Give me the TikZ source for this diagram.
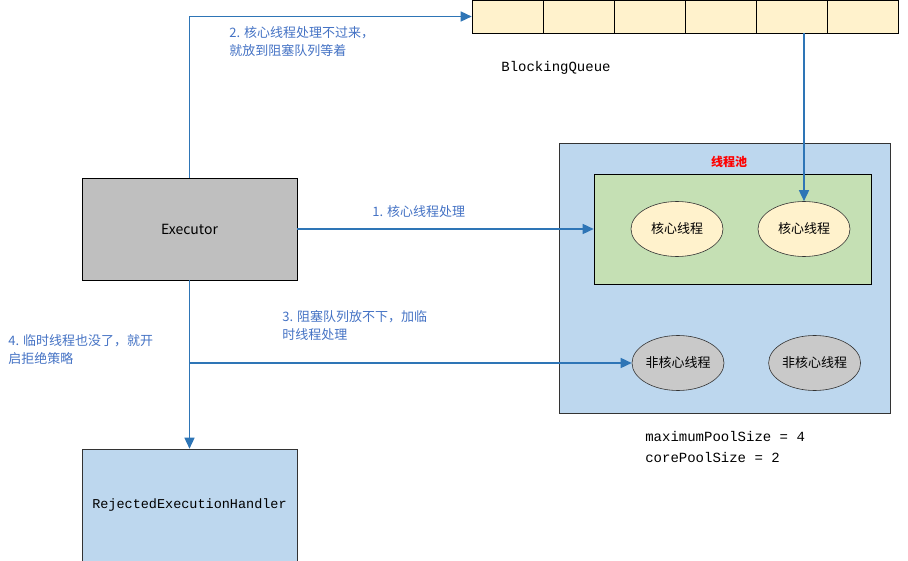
\documentclass[tikz,border=0pt]{standalone}
\usepackage{fontspec}
\setmainfont{Noto Sans CJK SC}
\setmonofont{Liberation Mono}
\usetikzlibrary{arrows.meta, positioning, shapes.geometric}
\definecolor{flowblue}{HTML}{2E75B6}
\definecolor{labelblue}{HTML}{4472C4}
\definecolor{poolblue}{HTML}{BDD7EE}
\definecolor{coregreen}{HTML}{C5E0B4}
\definecolor{queuecell}{HTML}{FFF2CC}
\definecolor{execgray}{HTML}{BFBFBF}
\definecolor{tempgray}{HTML}{C9C9C9}

\begin{document}
\begin{tikzpicture}[
            x = 1pt, y = -1pt, % one unit per pixel, y going down
            > = {Triangle[length = 11pt, width = 10pt]}, % arrow head style
            semithick % line style
        ]

        \tikzstyle{box}=[
        draw = black!80,
        rectangle,
        inner sep = 0pt
        ]
        \tikzstyle{cell}=[box, draw = black, fill = queuecell,
        minimum width = 71, minimum height = 33]
        \tikzstyle{thread}=[
        draw = black!80,
        ellipse,
        inner sep = 0pt,
        minimum width = 92,
        minimum height = 55,
        font = \fontsize{13}{15}\selectfont
        ]
        \tikzstyle{flow}=[draw = flowblue, line width = 1.5pt]
        \tikzstyle{note}=[text = labelblue, align = left, anchor = north west,
        inner sep = 0pt, font = \fontsize{13}{18}\selectfont]

        \useasboundingbox (0,0) rectangle (908,561);

        % queue cells
        \foreach \i in {1,...,6}
            \node[cell] (q\i) at ({472+71*\i-35.5},16.5) {};
        \node (queue) [font = \ttfamily\fontsize{14}{16}\selectfont] at (556,68) {BlockingQueue};

        \node (exec) [box, draw = black, fill = execgray, minimum width = 215,
            minimum height = 102, font = \fontsize{14}{16}\selectfont] at (189.5,229) {Executor};
        \node (handler) [box, fill = poolblue, minimum width = 215, minimum height = 112,
            font = \ttfamily\fontsize{13.5}{16}\selectfont] at (189.5,505) {RejectedExecutionHandler};

        % the pool
        \node (pool) [box, fill = poolblue, minimum width = 331, minimum height = 270] at (724.5,278) {};
        \node (pooltitle) [text = red, font = \bfseries\fontsize{12}{14}\selectfont] at (729,162) {线程池};
        \node (core) [box, draw = black, fill = coregreen, minimum width = 277, minimum height = 110] at (732.5,229) {};
        \node (core1) [thread, fill = queuecell] at (677,229) {核心线程};
        \node (core2) [thread, fill = queuecell] at (804,229) {核心线程};
        \node (temp1) [thread, fill = tempgray] at (678,363) {非核心线程};
        \node (temp2) [thread, fill = tempgray, right = 44 of temp1] {非核心线程};

        \node (sizes) [inner sep = 0pt, anchor = north west, align = left,
            font = \ttfamily\fontsize{14}{21}\selectfont] at (645,431)
            {maximumPoolSize = 4\\corePoolSize = 2};

        % connectors
        \draw[flow, ->] (exec.east) -- (core.west);
        \draw[flow, ->] (exec.north) |- (q1.west);
        \draw[flow, ->] (q5.south -| core2.north) -- (core2.north);
        \draw[flow, ->] (exec.south) -- (handler.north);
        \draw[flow, ->] (exec.south |- temp1.west) -- (temp1.west);

        \node (step1) [note] at (372,205) {1. 核心线程处理};
        \node (step2) [note] at (229,26) {2. 核心线程处理不过来，\\就放到阻塞队列等着};
        \node (step3) [note] at (282,310) {3. 阻塞队列放不下，加临\\时线程处理};
        \node (step4) [note] at (8,334) {4. 临时线程也没了，就开\\启拒绝策略};
    \end{tikzpicture}
\end{document}
